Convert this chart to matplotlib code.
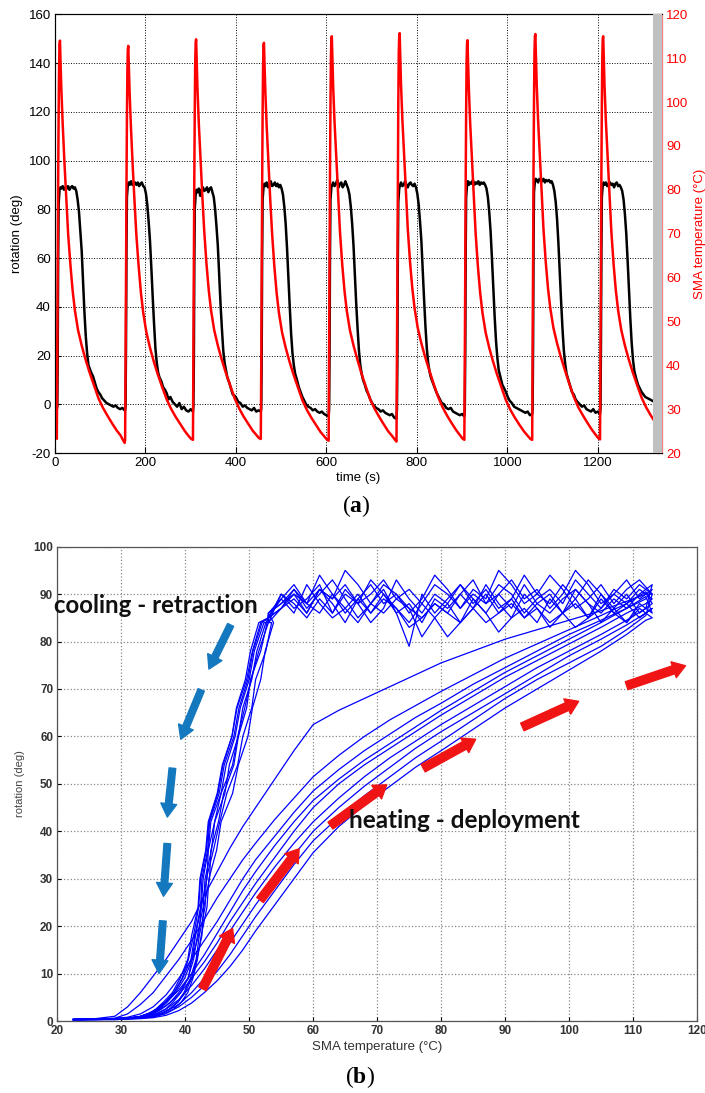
import matplotlib.pyplot as plt
import numpy as np
from matplotlib.patches import FancyArrowPatch

plt.rcParams['font.family'] = ['Liberation Sans', 'DejaVu Sans']
plt.rcParams['axes.unicode_minus'] = False

# ---------------- (a) rotation / temperature vs time ----------------
cycleStart = [4, 155, 305, 455, 605, 755, 905, 1055, 1205]

# SMA temperature, sampled at these offsets (s) after each cycle start
redRelT = [0, 1, 2, 3, 4, 5, 6, 7, 8, 10, 13, 17, 21, 25, 30, 35, 40, 47, 55, 63,
           72, 82, 92, 102, 112, 122, 132, 141, 146, 150]
tempCycles = [
    [23.3, 40, 62, 82, 97, 108, 113, 114, 110, 103, 95, 86, 78, 70, 63, 57, 52.5, 48, 44.5, 41.5,
     38.5, 35.5, 32.5, 30.3, 28.5, 26.8, 25.2, 24, 23, 22.3],
    [23, 39, 60, 80, 96, 107, 112, 112.8, 109, 102, 94, 85, 77, 69.5, 62.5, 56.5, 52, 47.5, 44, 41,
     38, 35, 32.2, 30, 28.2, 26.6, 25, 23.8, 23.2, 23],
    [23, 41, 63, 83, 98, 109, 113.5, 114.3, 110.5, 103, 95, 86.5, 78, 70.5, 63, 57, 52.5, 48, 44.5, 41.5,
     38.5, 35.5, 32.5, 30.2, 28.3, 26.7, 25.1, 24, 23.4, 23.2],
    [23.2, 40, 61, 81, 97, 108, 113, 113.5, 109.5, 102.5, 94.5, 86, 77.5, 70, 62.5, 56.5, 52, 47.5, 44, 41,
     38, 35, 32, 29.8, 28, 26.4, 24.8, 23.7, 23.1, 22.8],
    [22.8, 41, 63, 84, 99, 110, 114.5, 115, 111, 103.5, 95.5, 87, 78.5, 70.5, 63, 57, 52.5, 48, 44.5, 41.5,
     38.3, 35.2, 32.2, 30, 28.2, 26.5, 24.9, 23.8, 23.1, 22.6],
    [22.6, 42, 64, 85, 100, 111, 115, 115.7, 111.5, 104, 96, 87.5, 79, 71, 63.5, 57.5, 53, 48.5, 45, 42,
     39, 35.8, 32.8, 30.4, 28.5, 26.8, 25.2, 24, 23.3, 23],
    [23, 40, 62, 82, 98, 109, 113.5, 114.1, 110, 103, 95, 86.5, 78, 70, 62.5, 56.5, 52, 47.5, 44, 41,
     38, 35, 32, 29.8, 28, 26.4, 24.9, 23.8, 23.2, 23],
    [23, 42, 64, 85, 100, 111, 115, 115.5, 111.5, 104, 96, 87.5, 79, 71, 63.5, 57.5, 53, 48.5, 45, 42,
     39, 35.8, 32.8, 30.4, 28.6, 26.9, 25.3, 24.1, 23.4, 23.1],
    [23.1, 41, 63, 84, 99, 110, 114.5, 115, 111, 103.5, 95.5, 87, 78.5, 70.5, 63, 57, 52.5, 48, 44.5, 41.5,
     38.5, 35.5, 32.6, 30.4, 28.6, 27, 25.6],
]

# rotation, sampled at these offsets (s) after each cycle start
blackRelT = [0, 1, 2, 3, 4, 6, 8, 10, 13, 16, 19, 22, 25, 28, 31, 34, 37, 40, 43, 46,
             49, 52, 55, 58, 61, 64, 67, 70, 73, 76, 80, 84, 88, 92, 96, 100, 105, 110, 115, 120,
             125, 130, 135, 140, 145, 150]
rotCycles = [
    [-2, -1, 20, 60, 82, 88, 89, 88.5, 89.5, 88, 89, 88.5, 89.5, 88, 89, 89.5, 88.5, 89, 87.5, 84,
     79, 71, 63, 50, 38, 28, 21, 16, 14.5, 13, 11.5, 9, 6.5, 5, 4, 2.5, 1.5, 0.5, 0, -0.5,
     -1, -0.5, -1.5, -2, -1.5, -2.5],
    [-2.5, -1, 25, 65, 85, 90, 91, 90, 91.5, 90, 90.5, 91, 90, 91, 89.5, 90.5, 91, 89.5, 89, 86.5,
     82, 75, 67, 56, 44, 33, 23, 17, 13, 11, 9.5, 7, 6, 4.5, 2, 3, 1, 0, -1, 0.5,
     -2, -1, -2.5, -3, -2, -3],
    [-3, -1, 18, 58, 80, 86, 88, 87, 88.5, 85.5, 88, 89, 87.5, 88, 89, 87, 88.5, 89, 87, 85,
     80, 73, 65, 53, 41, 31, 22, 17, 14, 11, 9, 6.5, 4, 3.5, 2.5, 1, 0.5, -1, -0.5, -1.5,
     -2, -2.5, -1.5, -3, -2.5, -3],
    [-3, -1.5, 22, 62, 84, 89, 90.5, 89.5, 91, 89, 90, 91.5, 89.5, 90, 91, 89.5, 90.5, 89, 90, 88.5,
     86, 81, 74, 64, 52, 40, 29, 21, 16, 12.5, 10, 7, 5, 3, 1.5, 0, -1, -1.5, -2.5, -2,
     -3, -3.5, -3, -4, -4.5, -5],
    [-5, -2, 22, 62, 84, 89, 90, 91, 89.5, 90.5, 92, 89, 90.5, 91, 89, 90, 91.5, 90, 88.5, 86,
     81, 74, 65, 53, 41, 31, 22, 16, 12.5, 10, 8, 5.5, 4, 2, 0.5, -0.5, -1.5, -2, -3, -2.5,
     -3.5, -4, -4.5, -4, -5.5, -6],
    [-6, -2, 20, 60, 83, 88.5, 90, 91, 89.5, 90, 91.5, 90, 89, 90.5, 91, 90, 89.5, 90.5, 89, 86.5,
     82, 75, 67, 55, 43, 32, 23, 17, 13.5, 11, 9, 7, 5, 3.5, 2, 0.5, 0, -1.5, -2, -1.5,
     -3, -3.5, -4, -4.5, -4, -5],
    [-5, -2, 22, 63, 85, 90, 91.5, 90, 91, 90.5, 92, 90, 91, 90.5, 91.5, 90, 91, 90.5, 91, 90,
     88.5, 85, 79, 71, 60, 48, 36, 26, 19, 14, 11, 8, 6.5, 5, 3, 1.5, 0.5, -1, -1.5, -2,
     -2.5, -3, -3.5, -3, -4.5, -4],
    [-4, -1.5, 25, 66, 87, 91.5, 92.5, 92, 91, 92.5, 92, 91.5, 92.5, 91, 92, 91.5, 92, 91, 91.5, 90,
     87.5, 83, 76, 66, 54, 42, 31, 22, 16.5, 12.5, 10, 7.5, 5, 4, 2, 1, 0, -1, -0.5, -2,
     -2.5, -3, -2, -3.5, -3, -4],
    [-4, -1.5, 23, 63, 85, 90, 91, 90, 91, 89.5, 90.5, 91, 90, 90.5, 89, 90.5, 91, 89.5, 90, 89,
     87.5, 84, 78, 70, 59, 47, 35, 25, 18, 13.5, 10.5, 8, 6.5, 5, 4, 3, 2.5, 2, 1.5, 1,
     0.6],
]

# ---------------- (b) rotation vs SMA temperature loops ----------------
heatT = [22.5, 26, 29, 31, 33, 35, 37, 39, 41, 43, 45, 47, 49, 51, 54, 57, 60, 64, 68, 72,
         76, 80, 85, 90, 95, 100, 105, 109, 112]
heatRot = [
    [0.4, 0.5, 1.0, 3, 6, 9.5, 13, 17, 21, 26.5, 31.5, 36.5, 41, 45, 51, 57, 62.5, 65.5, 68, 70.5,
     73, 75.5, 78, 80.5, 82.5, 84.5, 86.5, 88.5, 90],
    [0.3, 0.4, 0.6, 1.5, 3.5, 6, 9.5, 13, 17, 21.5, 26, 30, 34, 37.5, 42.5, 47, 51.5, 56, 60, 63.5,
     66.5, 69.5, 73, 76.5, 79.5, 82.5, 85.5, 88, 90.5],
    [0.3, 0.4, 0.5, 0.8, 1.5, 3, 5.5, 9, 13, 17, 21, 25.5, 30, 34, 39, 44, 48.5, 53, 57, 60.5,
     64, 67, 71, 74.5, 78, 81.5, 84.5, 87, 89],
    [0.3, 0.3, 0.4, 0.6, 1, 2, 4, 6.5, 10, 14, 18.5, 23, 27.5, 31.5, 37, 42, 46.5, 51, 55, 58.5,
     62, 65.5, 69.5, 73.5, 77, 80.5, 84, 87, 89.5],
    [0.4, 0.4, 0.5, 0.6, 0.9, 1.7, 3.2, 5.5, 9, 12.5, 16.5, 21, 25, 29, 34.5, 40, 45, 50, 54, 57.5,
     61, 64.5, 68.5, 72.5, 76, 79.5, 83, 86, 88],
    [0.2, 0.3, 0.4, 0.5, 0.8, 1.3, 2.5, 4.5, 7.5, 11, 15, 19, 23, 27, 32.5, 37.5, 42, 47, 51.5, 55.5,
     59, 62.5, 66.5, 70.5, 74.5, 78, 81.5, 84.5, 87],
    [0.3, 0.3, 0.4, 0.5, 0.7, 1, 2, 3.5, 6, 9, 12.5, 16.5, 20.5, 24.5, 30, 35, 40, 45, 49.5, 53.5,
     57.5, 61, 65, 69, 73, 77, 80.5, 83.5, 86],
    [0.3, 0.3, 0.3, 0.4, 0.6, 0.9, 1.6, 3, 5, 7.5, 10.5, 14, 18, 22, 27.5, 33, 38, 43, 47.5, 51.5,
     55.5, 59, 63.5, 68, 72, 75.5, 79, 82.5, 85.5],
    [0.2, 0.3, 0.3, 0.4, 0.5, 0.7, 1.2, 2.2, 3.8, 6, 8.5, 11.5, 15, 19, 24.5, 30, 35.5, 41, 45.5, 49.5,
     53.5, 57, 61.5, 66, 70, 74, 78, 81.5, 84.5],
]

plateauT = [113, 111, 109, 107, 105, 103, 101, 99, 97, 95, 93, 91, 89, 87, 85, 83, 81, 79, 77, 75,
            73, 71, 69, 67, 65, 63, 61, 59, 57, 55, 53]
plateauRot = [
    [90, 92, 89, 91, 87, 90, 93, 88, 91, 89, 86, 90, 92, 88, 90, 87, 91, 94, 89, 86, 90, 92, 88, 85, 89, 93, 90, 87, 91, 88, 86],
    [88, 86, 90, 87, 84, 88, 91, 86, 83, 87, 90, 85, 88, 92, 87, 84, 88, 90, 86, 89, 93, 87, 84, 88, 91, 86, 89, 85, 88, 90, 85],
    [91, 89, 93, 90, 88, 92, 95, 90, 87, 91, 89, 93, 90, 86, 89, 92, 88, 85, 81, 87, 90, 88, 92, 89, 86, 90, 94, 88, 91, 87, 84],
    [86, 88, 84, 87, 90, 85, 83, 86, 89, 84, 87, 85, 82, 86, 89, 84, 81, 85, 88, 84, 87, 90, 86, 89, 84, 88, 91, 86, 89, 87, 85],
    [89, 91, 88, 86, 90, 93, 89, 92, 88, 90, 94, 89, 87, 91, 88, 92, 89, 86, 90, 79, 86, 91, 88, 92, 95, 89, 91, 86, 90, 88, 86],
    [92, 90, 87, 89, 86, 88, 91, 89, 86, 88, 92, 87, 90, 88, 93, 90, 87, 89, 84, 88, 86, 90, 93, 88, 90, 86, 92, 89, 87, 90, 84],
    [87, 85, 88, 90, 87, 85, 89, 86, 90, 88, 85, 89, 86, 84, 87, 90, 86, 88, 85, 83, 87, 89, 86, 90, 87, 85, 88, 92, 86, 89, 86],
    [90, 93, 91, 88, 92, 89, 87, 91, 94, 90, 88, 92, 95, 89, 91, 87, 90, 92, 88, 91, 89, 93, 90, 88, 92, 89, 91, 88, 90, 87, 85],
    [85, 87, 84, 86, 89, 85, 88, 86, 84, 87, 85, 88, 86, 90, 87, 84, 86, 88, 85, 87, 89, 86, 88, 84, 87, 90, 86, 88, 92, 89, 85],
]

dropRot = [84, 78, 72, 66, 60, 54, 48, 42, 36, 30, 24, 18, 13, 9, 6, 4, 2.5, 1.5, 0.9, 0.6, 0.4, 0.3]
dropT = [
    [53, 51.5, 50.3, 49.3, 48.2, 47.4, 45.6, 44.6, 43.6, 43.4, 42.5, 42.1, 41.0, 40.5, 39, 37.7, 36.3, 35, 33.5, 31.5, 27.5, 22.5],
    [52, 50.6, 49.8, 48.4, 47.6, 46.1, 45.3, 43.8, 43.5, 42.6, 42.4, 41.5, 40.9, 39.6, 38.3, 37.0, 35.8, 34.8, 33.3, 31, 27, 22.8],
    [53.5, 52.6, 51, 50.4, 49, 48.2, 46.5, 45.4, 44.4, 43.3, 43.1, 42.2, 41.7, 40.8, 39.8, 38.8, 37.5, 36, 34.5, 32.5, 28, 23],
    [51.5, 50.2, 49.4, 48, 47.3, 45.8, 45, 43.6, 43.2, 42.3, 42, 41, 40.4, 39.2, 38.0, 36.6, 35.4, 34.2, 32.8, 30.8, 27, 22.5],
    [52.8, 51.8, 50.2, 49.6, 48.3, 47.6, 46, 45.2, 44, 43.8, 42.9, 42.6, 41.8, 41.0, 40.0, 38.9, 37.6, 36.3, 34.8, 32.4, 28, 23.2],
    [52.3, 50.8, 50, 48.6, 47.8, 46.4, 45.6, 44, 43.6, 42.8, 42.5, 41.6, 41.1, 39.9, 38.5, 37.2, 36, 34.7, 33.3, 31.2, 27.2, 22.6],
    [53.8, 52.5, 51.8, 50.5, 49.8, 48.3, 47.4, 45.6, 44.9, 43.7, 43.4, 42.5, 41.9, 41.2, 40.4, 39.4, 38.2, 36.8, 35, 32.5, 28, 22.8],
    [51.8, 50.5, 49.6, 48.1, 47.3, 45.9, 45.1, 43.7, 43.3, 42.4, 42.1, 41.3, 40.5, 39.5, 38.2, 36.9, 35.7, 34.5, 33, 31, 26.8, 22.5],
    [52.6, 51.2, 50.4, 49, 48.3, 46.9, 46.2, 44.6, 44.1, 43.1, 42.8, 41.9, 41.3, 40.4, 39.3, 38.1, 36.9, 35.6, 34.1, 31.8, 27.4, 23],
]

# annotation arrows (tail T, tail rot, head T, head rot)
coolArrows = [(47.1, 83.5, 43.7, 74.2), (42.5, 69.8, 39.3, 59.4), (38.0, 53.3, 37.2, 43.0),
              (37.2, 37.4, 36.6, 26.3), (36.5, 21.1, 35.9, 10.0)]
heatArrows = [(42.7, 6.8, 47.4, 19.5), (51.7, 25.5, 57.8, 36.3), (62.7, 41.2, 71.5, 49.8),
              (77.2, 53.3, 85.4, 59.4), (92.7, 62.0, 101.5, 67.4), (109.0, 70.7, 118.2, 74.9)]


def concatCycles(starts, relT, cycles):
    t, v = [], []
    for s, vals in zip(starts, cycles):
        t.extend(s + r for r in relT[:len(vals)])
        v.extend(vals)
    return np.array(t), np.array(v)


def plotTimeSeries(fig):
    ax = fig.add_axes([55 / 705, 1 - 453 / 1093, (662 - 55) / 705, (453 - 14.3) / 1093])
    tRot, rot = concatCycles(cycleStart, blackRelT, rotCycles)
    tTemp, temp = concatCycles(cycleStart, redRelT, tempCycles)

    ax.plot(tRot, rot, color='black', lw=1.8)
    ax.set_xlim(0, 1342)
    ax.set_ylim(-20, 160)
    ax.set_xticks(np.arange(0, 1201, 200))
    ax.set_yticks(np.arange(-20, 161, 20))
    ax.grid(True, linestyle=':', color='black', lw=0.7)
    ax.tick_params(direction='in', length=4, labelsize=9.5, pad=3)
    ax.set_xlabel("time (s)", fontsize=9.5, labelpad=2)
    ax.set_ylabel("rotation (deg)", fontsize=9.5, labelpad=4)
    for sp in ax.spines.values():
        sp.set_color('#303030')
        sp.set_linewidth(0.8)

    ax2 = ax.twinx()
    ax2.plot(tTemp, temp, color='red', lw=1.8)
    ax2.set_ylim(20, 120)
    ax2.set_yticks(np.arange(20, 121, 10))
    ax2.tick_params(direction='in', length=4, labelsize=9.5, colors='red', pad=3)
    ax2.set_ylabel("SMA temperature (°C)", fontsize=9.5, color='red', labelpad=4)
    ax2.spines['right'].set_color('#ff8080')
    # grey strip along the right edge of the plot area
    ax2.axvspan(1322, 1342, color='#c0c0c0', lw=0, zorder=3)

    fig.text(356 / 705, 1 - 506 / 1093, r"($\mathbf{a}$)", ha='center', va='center',
             fontsize=17, family='Liberation Serif')


def plotLoops(fig):
    ax = fig.add_axes([57.3 / 705, 1 - 1021 / 1093, (697 - 57.3) / 705, (1021 - 546.7) / 1093])
    for h, p, d in zip(heatRot, plateauRot, dropT):
        x = list(heatT) + list(plateauT) + list(d)
        y = list(h) + list(p) + list(dropRot)
        ax.plot(x, y, color='#0000ff', lw=0.9)

    ax.set_xlim(20, 120)
    ax.set_ylim(0, 100)
    ax.set_xticks(np.arange(20, 121, 10))
    ax.set_yticks(np.arange(0, 101, 10))
    ax.grid(True, linestyle=':', color='#888888', lw=0.9)
    ax.tick_params(direction='in', length=3, labelsize=8.5, pad=3, labelcolor='#333333')
    for lab in ax.get_xticklabels() + ax.get_yticklabels():
        lab.set_fontweight('bold')
    for sp in ax.spines.values():
        sp.set_color('#555555')
        sp.set_linewidth(0.9)
    ax.set_xlabel("SMA temperature (°C)", fontsize=9.5, color='#333333', labelpad=3)
    ax.set_ylabel("rotation (deg)", fontsize=8, color='#444444', labelpad=6)

    for x0, y0, x1, y1 in coolArrows:
        ax.add_patch(FancyArrowPatch((x0, y0), (x1, y1), mutation_scale=12, color='#1478be',
                                     arrowstyle='simple,head_length=0.8,head_width=0.95,tail_width=0.4',
                                     shrinkA=0, shrinkB=0, zorder=4))
    for x0, y0, x1, y1 in heatArrows:
        ax.add_patch(FancyArrowPatch((x0, y0), (x1, y1), mutation_scale=12, color='#f01414',
                                     arrowstyle='simple,head_length=0.75,head_width=1.0,tail_width=0.5',
                                     shrinkA=0, shrinkB=0, zorder=4, clip_on=False))

    ax.text(35.4, 87.7, "cooling - retraction", fontsize=17.3, fontweight='bold', family='Lato',
            ha='center', va='center', color='#111111', zorder=5)
    ax.text(83.7, 42.3, "heating - deployment", fontsize=17.5, fontweight='bold', family='Lato',
            ha='center', va='center', color='#111111', zorder=5)

    fig.text(360 / 705, 1 - 1077 / 1093, r"($\mathbf{b}$)", ha='center', va='center',
             fontsize=17, family='Liberation Serif')


def makePlots():
    plt.rcParams['mathtext.fontset'] = 'custom'
    plt.rcParams['mathtext.bf'] = 'Liberation Serif:bold'
    fig = plt.figure(figsize=(7.05, 10.93), dpi=100)
    plotTimeSeries(fig)
    plotLoops(fig)
    fig.savefig("out.png", dpi=100)
    plt.close(fig)


if __name__ == "__main__":
    makePlots()
